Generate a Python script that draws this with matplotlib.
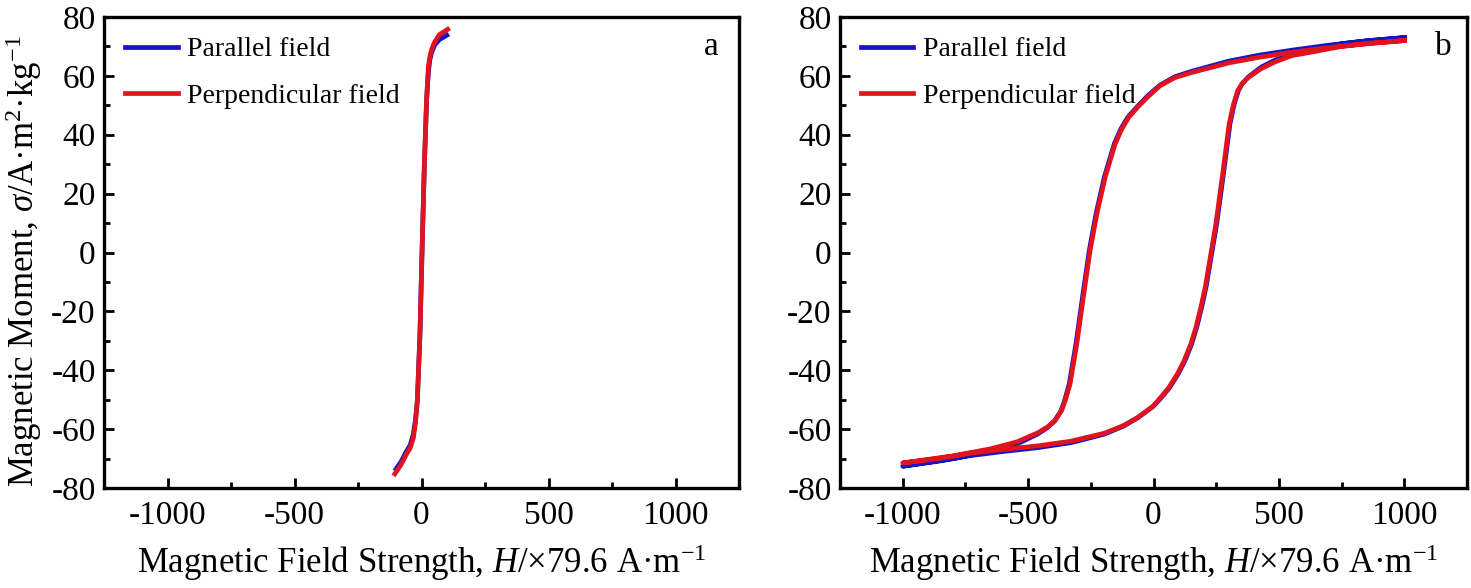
import matplotlib
matplotlib.use("Agg")
import matplotlib.pyplot as plt
from matplotlib.ticker import MultipleLocator

plt.rcParams["font.family"] = ["Liberation Serif", "DejaVu Serif"]
plt.rcParams["mathtext.fontset"] = "custom"
plt.rcParams["mathtext.rm"] = "Liberation Serif"
plt.rcParams["mathtext.it"] = "Liberation Serif:italic"
plt.rcParams["axes.unicode_minus"] = False

# panel a: narrow loop (H in x79.6 A/m, sigma in A m2/kg)
a_par_H = [-100, -80, -62, -45, -33, -24, -16.5, -6, 0.5, 11, 20, 24, 28, 33, 40, 52, 70, 100]
a_par_M = [-73.5, -71, -68, -65.5, -62, -57, -50.5, -27.7, -5, 29, 51.7, 57.5, 62, 65.5, 68, 70.5, 72.3, 73.8]
a_perp_H = [-105, -80, -60, -45, -32, -24, -16.5, -6, 0.5, 11, 20, 24, 27, 33, 40, 50, 70, 103]
a_perp_M = [-75.2, -72, -68.6, -66.5, -63, -58, -50.5, -27.7, -5, 29, 51.7, 58, 63.1, 66.5, 69, 71.2, 74, 75.8]

# panel b: descending branch (+1000 -> -1000), then ascending branch (-1000 -> +1000)
b_par_desc_H = [1000, 850, 687, 550, 419, 300, 218, 150, 85, 25, -22, -62, -102, -130, -156,
                -196, -229, -256, -283, -309, -336, -355, -369, -395, -423, -463, -543, -650, -800, -1000]
b_par_desc_M = [73, 71.9, 70.3, 68.7, 67, 65, 63.1, 61.5, 59.7, 56.8, 53.3, 49.8, 46, 42, 37,
                25.6, 13.2, 0.7, -15.2, -31, -44.7, -50.5, -53.8, -57.3, -59.5, -61.7, -65, -67.5, -70, -72.6]
b_par_asc_H = [-1000, -850, -731, -600, -463, -329, -196, -120, -62, 0, 31, 65, 98, 125, 152,
               172, 192, 210, 225, 252, 279, 305, 322, 339, 355, 379, 430, 486, 552, 619, 750, 850, 1000]
b_par_asc_M = [-72.6, -70.8, -69, -67.6, -66.3, -64.6, -61.7, -59, -56.1, -52.2, -49.3, -45.8, -41.3, -36.8, -31.1,
               -25.5, -18.6, -11.5, -3.9, 9.8, 26.8, 43.8, 50.5, 55.1, 57.5, 59.7, 63, 65.4, 67.6, 68.6, 70.9, 71.9, 73]

b_perp_desc_H = [1000, 850, 687, 550, 419, 300, 218, 150, 85, 25, -20, -60, -99, -127, -153,
                 -193, -226, -253, -280, -306, -333, -352, -366, -392, -420, -460, -543, -650, -800, -1000]
b_perp_desc_M = [72, 71, 69.5, 68, 66.3, 64.4, 62.6, 61.1, 59.4, 56.6, 53.1, 49.7, 45.9, 41.9, 36.9,
                 25.5, 13.1, 0.6, -15.3, -31.1, -44.7, -50.3, -53.6, -57, -59.1, -61.2, -64.3, -66.7, -69.1, -71.5]
b_perp_asc_H = [-1000, -850, -731, -600, -463, -329, -196, -120, -62, -2, 28, 62, 95, 122, 149,
                169, 189, 207, 222, 249, 276, 302, 319, 336, 353, 377, 430, 486, 552, 619, 750, 850, 1000]
b_perp_asc_M = [-71.5, -69.9, -68.2, -66.9, -65.7, -64.1, -61.4, -58.8, -56, -52.2, -49.3, -45.8, -41.3, -36.8, -31.1,
                -25.5, -18.6, -11.5, -3.9, 9.8, 26.8, 43.8, 50.3, 55, 57.3, 59.4, 62.5, 64.8, 66.9, 67.9, 70, 70.9, 72]

blue = "#1414c8"
red = "#e0141e"
lw = 3.4

fig = plt.figure(figsize=(14.71, 5.88), dpi=100)
ax_a = fig.add_axes([104 / 1471, 100 / 588, 635 / 1471, 471 / 588])
ax_b = fig.add_axes([840 / 1471, 100 / 588, 627 / 1471, 471 / 588])

ax_a.plot(a_par_H, a_par_M, color=blue, lw=lw, label="Parallel field", solid_joinstyle="round")
ax_a.plot(a_perp_H, a_perp_M, color=red, lw=lw, label="Perpendicular field", solid_joinstyle="round")

ax_b.plot(b_par_desc_H + b_par_asc_H, b_par_desc_M + b_par_asc_M, color=blue, lw=lw,
          label="Parallel field", solid_joinstyle="round")
ax_b.plot(b_perp_desc_H + b_perp_asc_H, b_perp_desc_M + b_perp_asc_M, color=red, lw=lw,
          label="Perpendicular field", solid_joinstyle="round")

xlab = r"Magnetic Field Strength, $H$/×79.6 A·m$^{-1}$"
for ax, tag, tx in [(ax_a, "a", 0.957), (ax_b, "b", 0.962)]:
    ax.set_xlim(-1250, 1250)
    ax.set_ylim(-80, 80)
    ax.xaxis.set_major_locator(MultipleLocator(500))
    ax.xaxis.set_minor_locator(MultipleLocator(250))
    ax.yaxis.set_major_locator(MultipleLocator(20))
    ax.yaxis.set_minor_locator(MultipleLocator(10))
    ax.tick_params(which="both", direction="in", labelsize=24, width=2, top=False, right=False)
    ax.tick_params(which="major", length=7)
    ax.tick_params(which="minor", length=4)
    ax.tick_params(axis="x", which="major", pad=9)
    ax.tick_params(axis="y", which="major", pad=6)
    for s in ax.spines.values():
        s.set_linewidth(2.4)
    ax.set_xlabel(xlab, fontsize=25, labelpad=8)
    ax.text(tx, 0.936, tag, transform=ax.transAxes, fontsize=24, ha="center", va="center")
    ax.legend(loc="upper left", bbox_to_anchor=(0.033, 0.958), frameon=False, fontsize=20,
              handlelength=1.9, handletextpad=0.35, labelspacing=0.77, borderaxespad=0, borderpad=0)

ax_a.set_ylabel(r"Magnetic Moment, $\sigma$/A·m$^{2}$·kg$^{-1}$", fontsize=25)
ax_a.yaxis.set_label_coords(-0.094, 0.482)

fig.savefig("out.png", dpi=100)
